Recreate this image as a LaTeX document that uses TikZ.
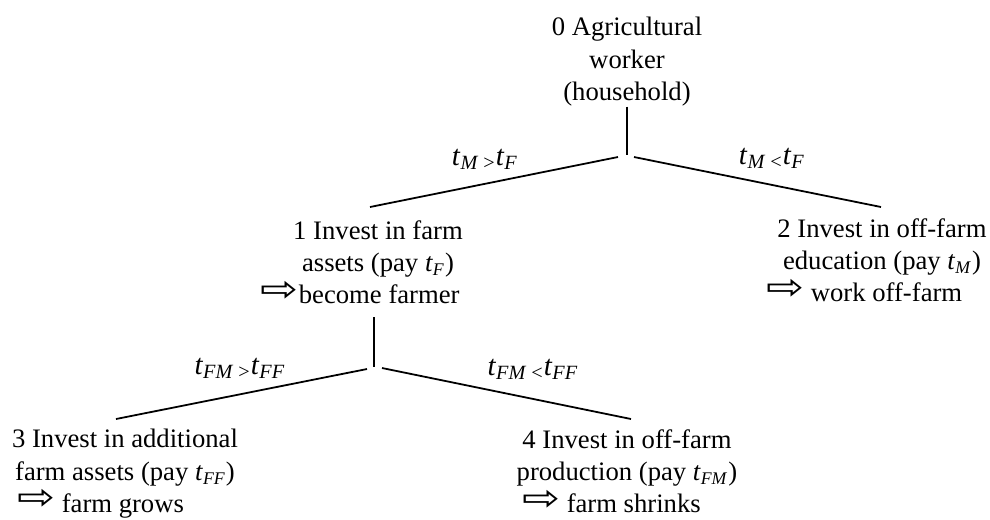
\documentclass[tikz,border=0pt]{standalone}
\usepackage{fontspec}
\setmainfont{Liberation Serif}
\newfontfamily\arrowfont{DejaVu Sans}
\usepackage{tikz}
\usetikzlibrary{positioning}

% italic t with italic subscript
\newcommand{\tsub}[1]{\textit{t}\textsubscript{\textit{#1}}}
\newcommand{\tcmp}[3]{\textit{t}\textsubscript{\textit{#1} #2}\textit{t}\textsubscript{\textit{#3}}}
\newcommand{\hollowarrow}{\raisebox{0.2ex}{\scalebox{1.7}[1.35]{\arrowfont ⇨}}}

\tikzset{
    choice/.style={anchor=north, align=center, inner sep=0pt,
        font=\fontsize{12}{14.5}\selectfont},
    cond/.style={anchor=base, inner sep=0pt, font=\fontsize{13}{15}\selectfont},
    branch/.style={line width=0.8pt}
}

\begin{document}
\begin{tikzpicture}[x=0.45pt, y=-0.45pt]
    \useasboundingbox (0,0) rectangle (990,519);

    % Draw decision nodes
    \node[choice] (n0) at (627,17) {0 Agricultural\\worker\\(household)};
    \node[choice] (n1) at (378,220) {1 Invest in farm\\assets (pay \tsub{F})\\\hollowarrow become farmer\hspace*{16pt}};
    \node[choice] (n2) at (882,218) {2 Invest in off-farm\\education (pay \tsub{M})\\\hollowarrow{} work off-farm\hspace*{16pt}};
    \node[choice] (n3) at (125,429) {3 Invest in additional\\farm assets (pay \tsub{FF})\\\hollowarrow{} farm grows\hspace*{22pt}};
    \node[choice] (n4) at (627,429) {4 Invest in off-farm\\production (pay \tsub{FM})\\\hollowarrow{} farm shrinks\hspace*{14pt}};

    % Fork points and branch ends
    \coordinate (f0) at (627,155);
    \coordinate (f0l) at (618,157);
    \coordinate (f0r) at (634,157);
    \coordinate (e1) at (370,207);
    \coordinate (e2) at (881,207);
    \coordinate (f1t) at (374,317);
    \coordinate (f1) at (374,367);
    \coordinate (f1l) at (367,369);
    \coordinate (f1r) at (382,368);
    \coordinate (e3) at (116,419);
    \coordinate (e4) at (631,419);

    % Draw branches
    \draw[branch] (n0.south) -- (f0);
    \draw[branch] (f0l) -- (e1);
    \draw[branch] (f0r) -- (e2);
    \draw[branch] (f1t) -- (f1);
    \draw[branch] (f1l) -- (e3);
    \draw[branch] (f1r) -- (e4);

    % Branch conditions
    \node[cond] (c1) at (485,165) {\tcmp{M}{>}{F}};
    \node[cond] (c2) at (772,164) {\tcmp{M}{<}{F}};
    \node[cond] (c3) at (240,374) {\tcmp{FM}{>}{FF}};
    \node[cond] (c4) at (533,375) {\tcmp{FM}{<}{FF}};
\end{tikzpicture}
\end{document}
